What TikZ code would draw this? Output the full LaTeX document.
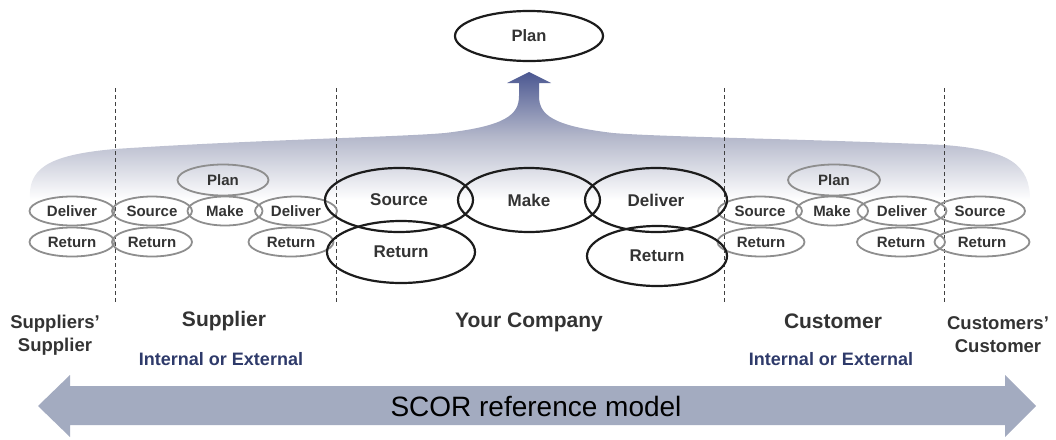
\documentclass[tikz,border=0pt]{standalone}
\usepackage{fontspec}
\setmainfont{Liberation Sans}
\usetikzlibrary{shapes.geometric}
\definecolor{txt}{HTML}{333333}
\definecolor{navy}{HTML}{2E3A6A}
\definecolor{sgray}{HTML}{8E8E8E}
\definecolor{bigline}{HTML}{1C1C1C}
\definecolor{arrowfill}{HTML}{A3ABC0}
\definecolor{shtop}{HTML}{4B5791}
\definecolor{shmid}{HTML}{B3B7CA}
\tikzset{
  small/.style={ellipse, draw=sgray, line width=1.8pt, inner sep=0pt, minimum height=29pt,
    font=\fontsize{15}{17}\selectfont\bfseries, text=txt},
  big/.style={ellipse, draw=bigline, line width=2.2pt, inner sep=0pt, minimum width=144pt, minimum height=63pt,
    font=\fontsize{17}{20}\selectfont\bfseries, text=txt},
  divider/.style={dashed, line width=1pt, dash pattern=on 4pt off 3pt, draw=black!75},
  role/.style={font=\fontsize{21}{24}\selectfont\bfseries, text=txt},
  endrole/.style={font=\fontsize{18.5}{23}\selectfont\bfseries, text=txt, align=center},
  kind/.style={font=\fontsize{18}{20}\selectfont\bfseries, text=navy},
}
\begin{document}
\begin{tikzpicture}[x=1pt,y=-1pt]
\useasboundingbox (0,0) rectangle (1056,439);
% rising band with arrow
\shade[top color=shtop, bottom color=white, middle color=shmid]
  (30,200) .. controls (28,170) and (45,155) .. (115,149)
  .. controls (250,140) and (400,137) .. (445,133)
  .. controls (505,126) and (519,115) .. (519,96)
  -- (519,83) -- (507,83) -- (529,72) -- (551,83) -- (539,83) -- (539,96)
  .. controls (539,115) and (553,126) .. (613,133)
  .. controls (660,137) and (810,139) .. (944,145)
  .. controls (1010,150) and (1030,165) .. (1030,200) -- cycle;
% dividers
\coordinate (d1t) at (115,88); \coordinate (d1b) at (115,302);
\coordinate (d2t) at (336,88); \coordinate (d2b) at (336,302);
\coordinate (d3t) at (724,88); \coordinate (d3b) at (724,302);
\coordinate (d4t) at (944,88); \coordinate (d4b) at (944,302);
\draw[divider] (d1t) -- (d1b);
\draw[divider] (d2t) -- (d2b);
\draw[divider] (d3t) -- (d3b);
\draw[divider] (d4t) -- (d4b);
% top plan
\node[big, minimum width=148pt, minimum height=50pt, font=\fontsize{16.5}{20}\selectfont\bfseries] (plan) at (529,36) {Plan};
% left small ellipses
\node[small, minimum width=85pt] (ssDel) at (72,211) {Deliver};
\node[small, minimum width=85pt] (ssRet) at (72,242) {Return};
\node[small, minimum width=80pt] (sSrc) at (152,211) {Source};
\node[small, minimum width=80pt] (sRet1) at (152,242) {Return};
\node[small, minimum width=91pt, minimum height=31pt] (sPlan) at (223,180) {Plan};
\node[small, minimum width=75pt] (sMake) at (225,211) {Make};
\node[small, minimum width=82pt] (sDel) at (296,211) {Deliver};
\node[small, minimum width=85pt] (sRet2) at (291,242) {Return};
% right small ellipses
\node[small, minimum width=84pt] (cSrc) at (760,211) {Source};
\node[small, minimum width=87pt] (cRet1) at (761,242) {Return};
\node[small, minimum width=92pt, minimum height=31pt] (cPlan) at (834,180) {Plan};
\node[small, minimum width=72pt] (cMake) at (832,211) {Make};
\node[small, minimum width=89pt] (cDel) at (902,211) {Deliver};
\node[small, minimum width=88pt] (cRet2) at (901,242) {Return};
\node[small, minimum width=90pt] (ccSrc) at (980,211) {Source};
\node[small, minimum width=95pt] (ccRet) at (982,242) {Return};
% big ellipses
\node[big, minimum width=148pt, minimum height=64pt] (ySrc) at (399,200) {Source};
\node[big, minimum width=142pt, minimum height=64pt] (yMake) at (529,200) {Make};
\node[big, minimum width=142pt, minimum height=64pt] (yDel) at (656,200) {Deliver};
\node[big, minimum width=148pt, minimum height=62pt] (yRet1) at (401,252) {Return};
\node[big, minimum width=140pt, minimum height=60pt] (yRet2) at (657,256) {Return};
% labels
\node[endrole] (lss) at (55,335) {Suppliers'\\Supplier};
\node[role] (lsup) at (224,321) {Supplier};
\node[kind] (lsupk) at (221,359) {Internal or External};
\node[role] (lyou) at (529,322) {Your Company};
\node[role] (lcus) at (833,321) {Customer};
\node[kind] (lcusk) at (831,359) {Internal or External};
\node[endrole] (lcc) at (998,335) {Customers'\\Customer};
% SCOR arrow
\fill[arrowfill] (38,406) -- (70,375) -- (70,386) -- (1005,386) -- (1005,375) -- (1036,406)
  -- (1005,437) -- (1005,425) -- (70,425) -- (70,437) -- cycle;
\node[font=\fontsize{28}{32}\selectfont, text=black] (scor) at (536,406) {SCOR reference model};
\end{tikzpicture}
\end{document}
